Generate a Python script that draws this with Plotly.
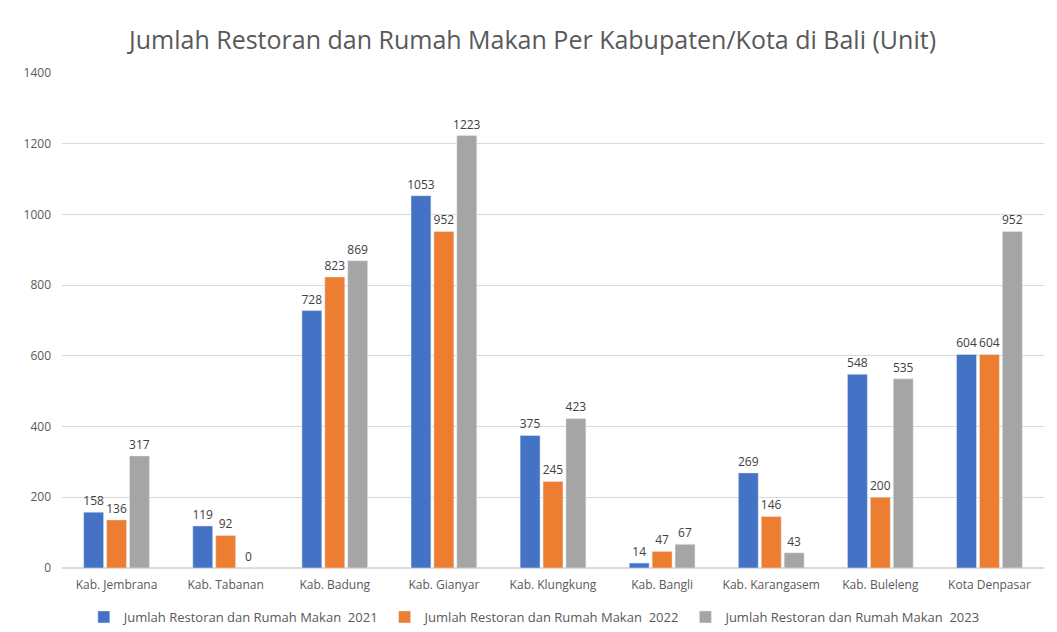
import plotly.graph_objects as go

categories = ["Kab. Jembrana", "Kab. Tabanan", "Kab. Badung", "Kab. Gianyar", "Kab. Klungkung",
              "Kab. Bangli", "Kab. Karangasem", "Kab. Buleleng", "Kota Denpasar"]
v2021 = [158, 119, 728, 1053, 375, 14, 269, 548, 604]
v2022 = [136, 92, 823, 952, 245, 47, 146, 200, 604]
v2023 = [317, 0, 869, 1223, 423, 67, 43, 535, 952]
names = ["Jumlah Restoran dan Rumah Makan  2021",
         "Jumlah Restoran dan Rumah Makan  2022",
         "Jumlah Restoran dan Rumah Makan  2023"]
colors = ["#4472C4", "#ED7D31", "#A5A5A5"]
y_ticks = [0, 200, 400, 600, 800, 1000, 1200, 1400]

FONT = "Open Sans"
W, H = 1049, 624
fig = go.Figure()
for vals, name, col in zip([v2021, v2022, v2023], names, colors):
    fig.add_trace(go.Bar(
        x=categories, y=vals, name=name, marker_color=col,
        text=[str(v) for v in vals], textposition="outside",
        textfont=dict(size=12, color="#404040", family=FONT),
        constraintext="none", cliponaxis=False,
    ))

fig.update_layout(
    width=W, height=H,
    paper_bgcolor="white", plot_bgcolor="white",
    margin=dict(l=54, r=13, t=65, b=64),
    title=dict(text="Jumlah Restoran dan Rumah Makan Per Kabupaten/Kota di Bali (Unit)",
               x=0.5, xanchor="center", y=1 - 32 / H, yanchor="middle",
               font=dict(size=25, color="#595959", family=FONT)),
    barmode="group", bargap=0.37, bargroupgap=0.13,
    showlegend=True,
    legend=dict(orientation="h", x=0.482, xanchor="center", yref="container",
                y=1 - 609 / H, yanchor="middle",
                font=dict(size=13, color="#595959", family=FONT),
                itemwidth=30, traceorder="normal"),
    font=dict(family=FONT, color="#595959"),
)
fig.update_xaxes(showgrid=False, showline=False, ticks="", ticklabelstandoff=8,
                 automargin=False,
                 tickfont=dict(size=12, color="#595959", family=FONT))
fig.update_yaxes(range=[0, 1400], tickvals=y_ticks, showgrid=True, gridcolor="#D9D9D9",
                 gridwidth=1, zeroline=True, zerolinecolor="#D9D9D9", showline=False,
                 ticks="", ticklabelstandoff=10, automargin=False,
                 tickfont=dict(size=12, color="#595959", family=FONT))

fig.write_html("out.html")
